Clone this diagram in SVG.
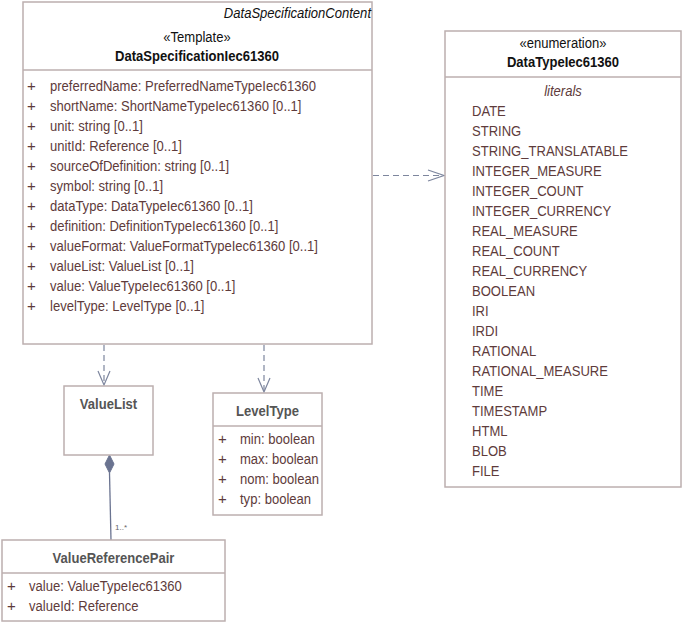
<svg xmlns="http://www.w3.org/2000/svg" width="683" height="624" viewBox="0 0 683 624">
<style>
.box{fill:#fff;stroke:#bcafaf;stroke-width:1.5}
.div{stroke:#bcafaf;stroke-width:1.5}
text{font-family:"Liberation Sans",Arial,sans-serif;font-size:15px}
.attr{fill:#5e3b3b}
.hdr{fill:#111}
.bold{font-weight:bold}
.grey{fill:#555}
.it{font-style:italic}
.dash{stroke:#7d869e;stroke-width:1.2;stroke-dasharray:6,4;fill:none}
.head{stroke:#7d869e;stroke-width:1.2;fill:none}
.mid{text-anchor:middle}
</style>
<g id="connectors">
<line class="dash" x1="104" y1="345" x2="104" y2="384"/>
<polyline class="head" points="98,371 104,385 110,371"/>
<line class="dash" x1="264" y1="345" x2="264" y2="391"/>
<polyline class="head" points="258,378 264,392 270,378"/>
<line class="dash" x1="373" y1="175.5" x2="443" y2="175.5"/>
<polyline class="head" points="428,170 444,175.5 428,181"/>
<line x1="109.5" y1="473" x2="111" y2="540" stroke="#6a7390" stroke-width="1.3"/>
<polygon points="109.5,455 114,464 109.5,473 105,464" fill="#6a7390" stroke="#6a7390" stroke-width="1"/>
<text x="115" y="530" fill="#666" style="font-size:8px">1..*</text>
</g>
<g id="DataSpecificationIec61360">
<rect class="box" x="23" y="2" width="349" height="342"/>
<line class="div" x1="23" y1="70" x2="372" y2="70"/>
<text transform="translate(371 18) scale(.87 1)" class="hdr it" text-anchor="end">DataSpecificationContent</text>
<text transform="translate(197 42) scale(.87 1)" class="hdr mid">«Template»</text>
<text transform="translate(197 61) scale(.87 1)" class="hdr mid bold">DataSpecificationIec61360</text>
<g class="attr">
<text x="27" y="91">+</text><text transform="translate(50 91) scale(.87 1)">preferredName: PreferredNameTypeIec61360</text>
<text x="27" y="111">+</text><text transform="translate(50 111) scale(.87 1)">shortName: ShortNameTypeIec61360 [0..1]</text>
<text x="27" y="131">+</text><text transform="translate(50 131) scale(.87 1)">unit: string [0..1]</text>
<text x="27" y="151">+</text><text transform="translate(50 151) scale(.87 1)">unitId: Reference [0..1]</text>
<text x="27" y="171">+</text><text transform="translate(50 171) scale(.87 1)">sourceOfDefinition: string [0..1]</text>
<text x="27" y="191">+</text><text transform="translate(50 191) scale(.87 1)">symbol: string [0..1]</text>
<text x="27" y="211">+</text><text transform="translate(50 211) scale(.87 1)">dataType: DataTypeIec61360 [0..1]</text>
<text x="27" y="231">+</text><text transform="translate(50 231) scale(.87 1)">definition: DefinitionTypeIec61360 [0..1]</text>
<text x="27" y="251">+</text><text transform="translate(50 251) scale(.87 1)">valueFormat: ValueFormatTypeIec61360 [0..1]</text>
<text x="27" y="271">+</text><text transform="translate(50 271) scale(.87 1)">valueList: ValueList [0..1]</text>
<text x="27" y="291">+</text><text transform="translate(50 291) scale(.87 1)">value: ValueTypeIec61360 [0..1]</text>
<text x="27" y="311">+</text><text transform="translate(50 311) scale(.87 1)">levelType: LevelType [0..1]</text>
</g>
</g>
<g id="DataTypeIec61360">
<rect class="box" x="445" y="31" width="236" height="456"/>
<line class="div" x1="445" y1="77" x2="681" y2="77"/>
<text transform="translate(563 48) scale(.87 1)" class="hdr mid">«enumeration»</text>
<text transform="translate(563 67) scale(.87 1)" class="hdr mid bold">DataTypeIec61360</text>
<text transform="translate(563 96) scale(.87 1)" class="attr mid it">literals</text>
<g class="attr">
<text transform="translate(472 116) scale(.87 1)">DATE</text>
<text transform="translate(472 136) scale(.87 1)">STRING</text>
<text transform="translate(472 156) scale(.87 1)">STRING_TRANSLATABLE</text>
<text transform="translate(472 176) scale(.87 1)">INTEGER_MEASURE</text>
<text transform="translate(472 196) scale(.87 1)">INTEGER_COUNT</text>
<text transform="translate(472 216) scale(.87 1)">INTEGER_CURRENCY</text>
<text transform="translate(472 236) scale(.87 1)">REAL_MEASURE</text>
<text transform="translate(472 256) scale(.87 1)">REAL_COUNT</text>
<text transform="translate(472 276) scale(.87 1)">REAL_CURRENCY</text>
<text transform="translate(472 296) scale(.87 1)">BOOLEAN</text>
<text transform="translate(472 316) scale(.87 1)">IRI</text>
<text transform="translate(472 336) scale(.87 1)">IRDI</text>
<text transform="translate(472 356) scale(.87 1)">RATIONAL</text>
<text transform="translate(472 376) scale(.87 1)">RATIONAL_MEASURE</text>
<text transform="translate(472 396) scale(.87 1)">TIME</text>
<text transform="translate(472 416) scale(.87 1)">TIMESTAMP</text>
<text transform="translate(472 436) scale(.87 1)">HTML</text>
<text transform="translate(472 456) scale(.87 1)">BLOB</text>
<text transform="translate(472 476) scale(.87 1)">FILE</text>
</g>
</g>
<g id="ValueList">
<rect class="box" x="64" y="386" width="89" height="69"/>
<text transform="translate(108.5 409) scale(.87 1)" class="grey mid bold">ValueList</text>
</g>
<g id="LevelType">
<rect class="box" x="213" y="393" width="109" height="122"/>
<line class="div" x1="213" y1="426" x2="322" y2="426"/>
<text transform="translate(267.5 416) scale(.87 1)" class="grey mid bold">LevelType</text>
<g class="attr">
<text x="218" y="444">+</text><text transform="translate(240 444) scale(.87 1)">min: boolean</text>
<text x="218" y="464">+</text><text transform="translate(240 464) scale(.87 1)">max: boolean</text>
<text x="218" y="484">+</text><text transform="translate(240 484) scale(.87 1)">nom: boolean</text>
<text x="218" y="504">+</text><text transform="translate(240 504) scale(.87 1)">typ: boolean</text>
</g>
</g>
<g id="ValueReferencePair">
<rect class="box" x="2" y="540" width="223" height="81"/>
<line class="div" x1="2" y1="573" x2="225" y2="573"/>
<text transform="translate(113.5 563) scale(.87 1)" class="grey mid bold">ValueReferencePair</text>
<g class="attr">
<text x="7" y="591">+</text><text transform="translate(29 591) scale(.87 1)">value: ValueTypeIec61360</text>
<text x="7" y="611">+</text><text transform="translate(29 611) scale(.87 1)">valueId: Reference</text>
</g>
</g>
</svg>
